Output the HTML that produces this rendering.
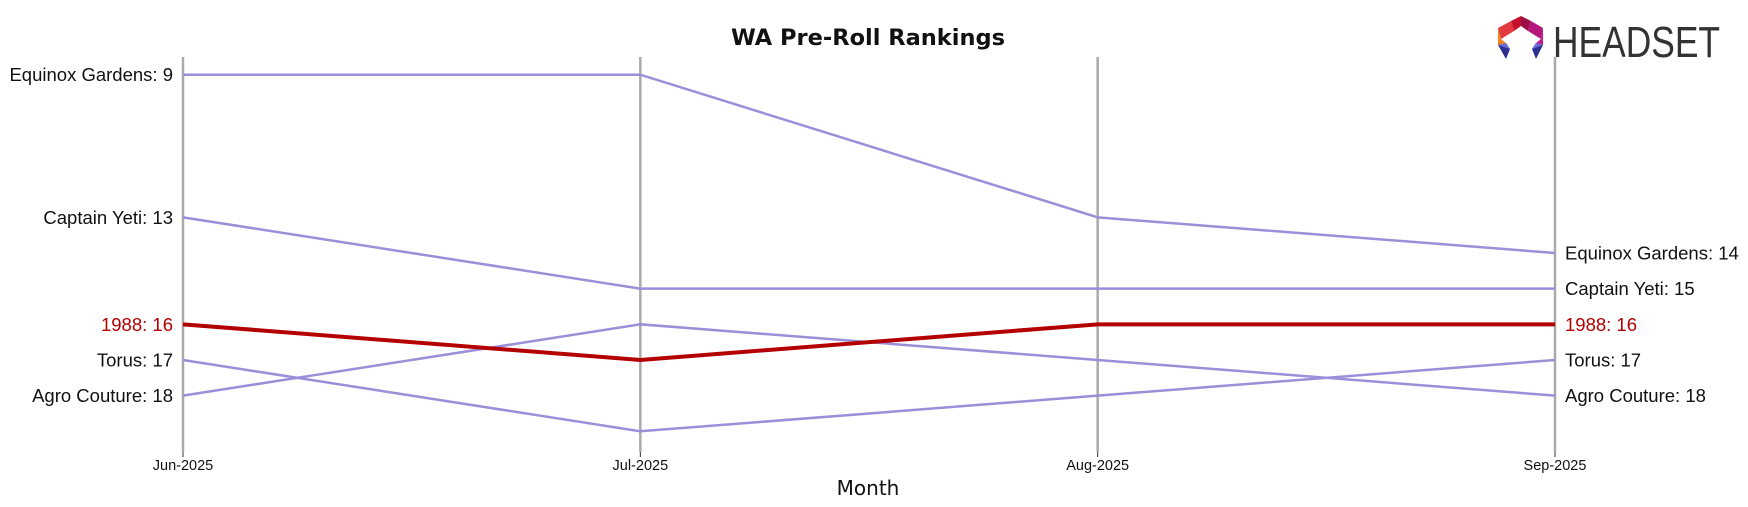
<!DOCTYPE html>
<html><head><meta charset="utf-8"><style>
html,body{margin:0;padding:0;background:#fff;}
svg{display:block;font-family:"Liberation Sans",sans-serif;}
</style></head><body>
<svg id="chart" width="1748" height="507" viewBox="0 0 1748 507">
  <text x="868" y="45" text-anchor="middle" font-size="22.5" font-weight="bold" fill="#111" font-family="DejaVu Sans, sans-serif">WA Pre-Roll Rankings</text>
  <g>
    <polygon points="1521,16 1511,21 1514,31 1521,26" fill="#c8102e"/>
    <polygon points="1521,16 1531,21 1528,31 1521,26" fill="#9b1048"/>
    <polygon points="1511,21 1498,28 1501,39 1514,31" fill="#e03a3e"/>
    <polygon points="1531,21 1543,28 1541,39 1528,31" fill="#b5177e"/>
    <polygon points="1498,28 1498,45 1506,43 1501,39" fill="#f58220"/>
    <polygon points="1543,28 1543,45 1536,43 1541,39" fill="#c41e8a"/>
    <polygon points="1498,45 1506,43 1510,49 1506,59" fill="#2e3192"/>
    <polygon points="1543,45 1536,43 1532,49 1536,59" fill="#2e3192"/>
    <polygon points="1498,45 1506,43 1510,49" fill="#6a6fd8"/>
    <polygon points="1543,45 1536,43 1532,49" fill="#6a6fd8"/>
    <text x="1553" y="57" font-size="44" fill="#333" textLength="167" lengthAdjust="spacingAndGlyphs">HEADSET</text>
  </g>
  <g id="grid"></g>
  <g id="lines"></g>
  <g id="labels"></g>
  <text x="868" y="495" text-anchor="middle" font-size="20" fill="#111" font-family="DejaVu Sans, sans-serif">Month</text>
</svg>
<script>
const months = ["Jun-2025","Jul-2025","Aug-2025","Sep-2025"];
const brands = ["Equinox Gardens","Captain Yeti","1988","Torus","Agro Couture"];
const equinoxRanks = [9,9,13,14];
const captainYetiRanks = [13,15,15,15];
const r1988Ranks = [16,17,16,16];
const torusRanks = [17,19,18,17];
const agroRanks = [18,16,17,18];
const highlighted = "1988";

const series = [equinoxRanks,captainYetiRanks,r1988Ranks,torusRanks,agroRanks];
const NS = "http://www.w3.org/2000/svg";
function xPos(i){ return 183 + i*(1555-183)/(months.length-1); }
function yPos(r){ return 74.7 + (r-9)*35.66; }
function mk(tag, attrs, parent){ const e=document.createElementNS(NS,tag); for(const k in attrs) e.setAttribute(k,attrs[k]); parent.appendChild(e); return e; }

const grid=document.getElementById('grid');
months.forEach((m,i)=>{
  const l=mk('line',{x1:xPos(i),x2:xPos(i),y1:57,y2:452,stroke:'#aaa','stroke-width':2.5},grid);
  
  
  const t=mk('line',{x1:xPos(i),x2:xPos(i),y1:452,y2:457,stroke:'#333','stroke-width':1},grid);
  
  
  const tx=mk('text',{x:xPos(i),y:470,'text-anchor':'middle','font-size':14.5,fill:'#111'},grid);
  tx.textContent=m;
  
  
});

const lines=document.getElementById('lines');
const labels=document.getElementById('labels');
const order=[0,1,3,4,2];
order.forEach(si=>{
  const name=brands[si], vals=series[si], hl=name===highlighted;
  const pts=vals.map((v,i)=>xPos(i)+','+yPos(v)).join(' ');
  const pl=mk('polyline',{points:pts,fill:'none',stroke:hl?'#b30000':'#9b8fd9','stroke-width':hl?4:2.5},lines);
  
  
  const col=hl?'#b30000':'#111';
  const lt=mk('text',{x:xPos(0)-10,y:yPos(vals[0])+6.5,'text-anchor':'end','font-size':18.5,fill:col},labels);
  lt.textContent=name+': '+vals[0];
  
  
  const last=vals.length-1;
  const rt=mk('text',{x:xPos(last)+10,y:yPos(vals[last])+6.5,'text-anchor':'start','font-size':18.5,fill:col},labels);
  rt.textContent=name+': '+vals[last];
  
  
});
</script>
</body></html>
